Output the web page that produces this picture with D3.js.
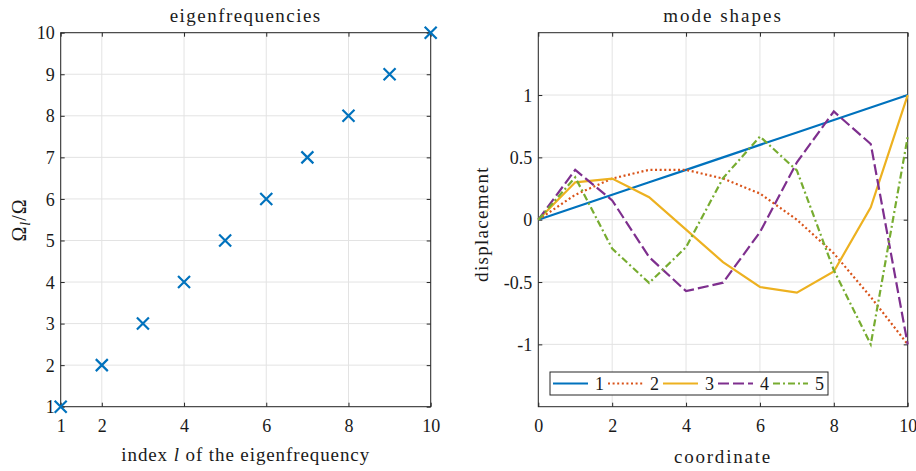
<!DOCTYPE html>
<html lang="en">
<head>
<meta charset="utf-8">
<title>eigenfrequencies and mode shapes</title>
<script src="https://cdn.jsdelivr.net/npm/d3@7"></script>
<style>
  body { margin: 0; background: #fff; }
  text { font-family: "Liberation Serif", "Times New Roman", serif; fill: #1a1a1a; }
</style>
</head>
<body>
<svg id="chart" width="916" height="471"></svg>
<script>
// left panel data
var eigIndex = [1, 2, 3, 4, 5, 6, 7, 8, 9, 10];
var eigRatio = [1, 2, 3, 4, 5, 6, 7, 8, 9, 10];
var leftXTicks = [1, 2, 4, 6, 8, 10];
var leftYTicks = [1, 2, 3, 4, 5, 6, 7, 8, 9, 10];

// right panel data
var coord = [0, 1, 2, 3, 4, 5, 6, 7, 8, 9, 10];
var mode1 = [0, 0.1, 0.2, 0.3, 0.4, 0.5, 0.6, 0.7, 0.8, 0.9, 1];
var mode2 = [0, 0.2, 0.33, 0.4, 0.4, 0.33, 0.21, 0, -0.27, -0.62, -1];
var mode3 = [0, 0.3, 0.33, 0.18, -0.08, -0.34, -0.54, -0.585, -0.415, 0.1, 1];
var mode4 = [0, 0.4, 0.155, -0.3, -0.573, -0.505, -0.1, 0.46, 0.868, 0.607, -1];
var mode5 = [0, 0.34, -0.232, -0.507, -0.22, 0.333, 0.667, 0.395, -0.405, -1, 0.665];
var modeNames = ["1", "2", "3", "4", "5"];
var modeColors = ["#0072BD", "#D95319", "#EDB120", "#7E2F8E", "#77AC30"];
var modeDashes = [null, "2,2.6", null, "11,4", "7,3,2,3"];
var rightXTicks = [0, 2, 4, 6, 8, 10];
var rightYTicks = [-1, -0.5, 0, 0.5, 1];
var rightYLabels = ["-1", "-0.5", "0", "0.5", "1"];

var modes = [mode1, mode2, mode3, mode4, mode5];

var svg = d3.select("#chart");
var plotTop = 32.7, plotBottom = 406.7;
var tickFont = "18px";
var labelFont = "19px";
var gridColor = "#e3e3e3";
var axisColor = "#262626";

function drawFrame(g, x, y, xTicks, yTicks, yFormat) {
  var x0 = x.range()[0], x1 = x.range()[1];
  var y0 = y.range()[0], y1 = y.range()[1];

  // grid
  g.selectAll(".gx").data(xTicks).enter().append("line")
    .attr("x1", function(d) { return x(d); }).attr("x2", function(d) { return x(d); })
    .attr("y1", y0).attr("y2", y1)
    .attr("stroke", gridColor).attr("stroke-width", 1);
  g.selectAll(".gy").data(yTicks).enter().append("line")
    .attr("y1", function(d) { return y(d); }).attr("y2", function(d) { return y(d); })
    .attr("x1", x0).attr("x2", x1)
    .attr("stroke", gridColor).attr("stroke-width", 1);

  // axes with inward ticks on all four sides
  var ax = [
    { a: d3.axisBottom(x).tickValues(xTicks).tickSize(-4), t: "translate(0," + y0 + ")", lab: true },
    { a: d3.axisTop(x).tickValues(xTicks).tickSize(-4), t: "translate(0," + y1 + ")", lab: false },
    { a: d3.axisLeft(y).tickValues(yTicks).tickSize(-4), t: "translate(" + x0 + ",0)", lab: true },
    { a: d3.axisRight(y).tickValues(yTicks).tickSize(-4), t: "translate(" + x1 + ",0)", lab: false }
  ];
  ax.forEach(function(o, i) {
    var s = g.append("g").attr("transform", o.t).call(o.a);
    s.select(".domain").remove();
    s.selectAll(".tick line").attr("stroke", axisColor);
    if (!o.lab) {
      s.selectAll(".tick text").remove();
    } else {
      s.selectAll(".tick text").attr("font-size", tickFont).attr("font-family", "Liberation Serif").attr("fill", "#1a1a1a");
      if (i == 0) s.selectAll(".tick text").attr("y", 13).attr("dy", "0.71em");
      if (i == 2) s.selectAll(".tick text").attr("x", -6).attr("dy", "0.34em")
        .text(function(d) { return yFormat(d); });
    }
  });

  g.append("rect")
    .attr("x", x0).attr("y", y1).attr("width", x1 - x0).attr("height", y0 - y1)
    .attr("fill", "none").attr("stroke", axisColor).attr("stroke-width", 1);
}

// ---- left panel: eigenfrequencies
var xL = d3.scaleLinear().domain([1, 10]).range([60.7, 430.7]);
var yL = d3.scaleLinear().domain([1, 10]).range([plotBottom, plotTop]);
var gL = svg.append("g");
drawFrame(gL, xL, yL, leftXTicks, leftYTicks, function(d) { return String(d); });

var cross = 6;
gL.selectAll(".mk").data(eigIndex).enter().append("path")
  .attr("d", function(d, i) {
    var cx = xL(d), cy = yL(eigRatio[i]);
    return "M" + (cx - cross) + "," + (cy - cross) + "L" + (cx + cross) + "," + (cy + cross) +
           "M" + (cx - cross) + "," + (cy + cross) + "L" + (cx + cross) + "," + (cy - cross);
  })
  .attr("stroke", "#0072BD").attr("stroke-width", 2.2).attr("fill", "none");

gL.append("text").attr("x", 245.7).attr("y", 21.7).attr("text-anchor", "middle")
  .attr("font-size", labelFont).attr("letter-spacing", "1.45px").text("eigenfrequencies");

var xl = gL.append("text").attr("x", 245.7).attr("y", 461).attr("text-anchor", "middle")
  .attr("font-size", labelFont).attr("letter-spacing", "0.9px");
xl.append("tspan").text("index ");
xl.append("tspan").attr("font-style", "italic").text("l");
xl.append("tspan").text(" of the eigenfrequency");

var yl = gL.append("text").attr("transform", "translate(26,220) rotate(-90)")
  .attr("text-anchor", "middle").attr("font-size", "20px").attr("letter-spacing", "1px");
yl.append("tspan").text("\u03A9");
yl.append("tspan").attr("font-style", "italic").attr("font-size", "14px").attr("dy", 4).text("l");
yl.append("tspan").attr("dy", -4).text("/\u03A9");

// ---- right panel: mode shapes
var xR = d3.scaleLinear().domain([0, 10]).range([538.3, 907.7]);
var yR = d3.scaleLinear().domain([-1.5, 1.5]).range([plotBottom, plotTop]);
var gR = svg.append("g");
drawFrame(gR, xR, yR, rightXTicks, rightYTicks, function(d) {
  return rightYLabels[rightYTicks.indexOf(d)];
});

var line = d3.line()
  .x(function(d, i) { return xR(coord[i]); })
  .y(function(d) { return yR(d); });

modes.forEach(function(m, k) {
  gR.append("path").datum(m)
    .attr("d", line)
    .attr("fill", "none")
    .attr("stroke", modeColors[k])
    .attr("stroke-width", 2.2)
    .attr("stroke-dasharray", modeDashes[k]);
});

gR.append("text").attr("x", 723).attr("y", 21.7).attr("text-anchor", "middle")
  .attr("font-size", labelFont).attr("letter-spacing", "2px").text("mode shapes");
gR.append("text").attr("x", 723).attr("y", 463).attr("text-anchor", "middle")
  .attr("font-size", labelFont).attr("letter-spacing", "1.8px").text("coordinate");
gR.append("text").attr("transform", "translate(488,224) rotate(-90)")
  .attr("text-anchor", "middle").attr("font-size", labelFont).attr("letter-spacing", "1.3px")
  .text("displacement");

// legend
var lg = gR.append("g");
lg.append("rect").attr("x", 550).attr("y", 372).attr("width", 278).attr("height", 23)
  .attr("fill", "#fff").attr("stroke", axisColor).attr("stroke-width", 1);
modeNames.forEach(function(name, k) {
  var lx = 553 + k * 55;
  lg.append("line").attr("x1", lx).attr("x2", lx + 35).attr("y1", 383.5).attr("y2", 383.5)
    .attr("stroke", modeColors[k]).attr("stroke-width", 2.2)
    .attr("stroke-dasharray", modeDashes[k]);
  lg.append("text").attr("x", lx + 42).attr("y", 390)
    .attr("font-size", tickFont).text(name);
});
</script>
</body>
</html>
